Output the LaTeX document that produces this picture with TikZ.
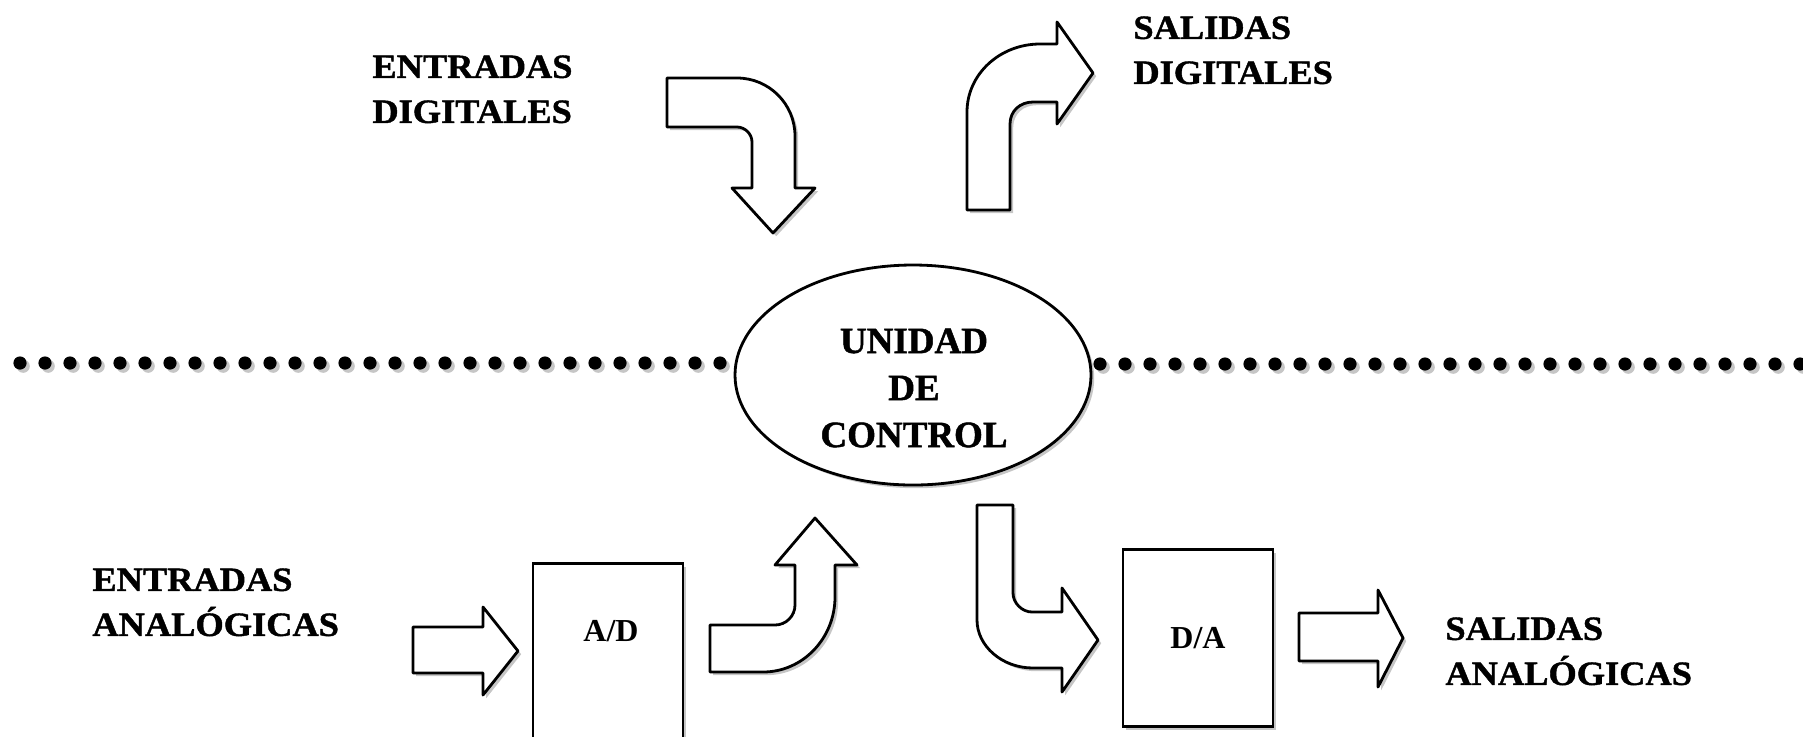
\documentclass[tikz,border=0pt]{standalone}
\usepackage{fontspec}
\setmainfont{Liberation Serif}
\newfontfamily\lblfont[FakeStretch=1.07,FakeBold=1.2]{Liberation Serif}
\newfontfamily\ctrlfont[FakeBold=1.2]{Liberation Serif}
\usepackage{tikz}
\usetikzlibrary{shapes.geometric,shadows}

\tikzset{
  shade/.style={drop shadow={shadow xshift=1.6pt,shadow yshift=-1.6pt,opacity=0.45}},
  blockarrow/.style={draw=black,line width=1.4pt,fill=white,line join=round,shade},
  blockbox/.style={draw=black,line width=1.4pt,fill=white,rectangle,shade,
    font=\fontsize{16}{18}\selectfont\bfseries},
  ctrl/.style={draw=black,line width=1.4pt,fill=white,ellipse,shade,
    minimum width=178pt,minimum height=110pt,inner sep=0pt},
  ctrltext/.style={align=center,inner sep=0pt,font=\ctrlfont\fontsize{18.5}{23.5}\selectfont\bfseries},
  lbl/.style={align=left,inner sep=0pt,anchor=north west,
    font=\lblfont\fontsize{17}{22.5}\selectfont\bfseries},
  dot/.style={fill=black,shade}
}

\begin{document}
\begin{tikzpicture}[x=0.5pt,y=-0.5pt]
\useasboundingbox (0,0) rectangle (1803,736);
\clip (0,0) rectangle (1803,736);

% dotted divider
\foreach \xx in {20,45,...,720} {
  \fill[dot] (\xx,363) circle (3.3pt);
}
\foreach \xx in {1100,1125,...,1800} {
  \fill[dot] (\xx,364) circle (3.3pt);
}

\node[ctrl] (uc) at (913,375) {};
\node[ctrltext] (uctext) at (914,388) {UNIDAD\\DE\\CONTROL};

% digital side
\node[lbl] (ed) at (372,55) {ENTRADAS\\DIGITALES};
\draw[blockarrow] (667,78) -- (737,78) .. controls (769,78) and (795,104) .. (795,136)
  -- (795,188) -- (815,188) -- (773,233) -- (732,188) -- (752,188) -- (752,142)
  .. controls (752,134) and (745,127) .. (737,127) -- (667,127) -- cycle;

\node[lbl] (sd) at (1133,16) {SALIDAS\\DIGITALES};
\draw[blockarrow] (967,210) -- (967,112) .. controls (967,74) and (1000,44) .. (1040,44)
  -- (1057,44) -- (1057,22) -- (1093,73) -- (1057,124) -- (1057,102) -- (1033,102)
  .. controls (1020,102) and (1010,111) .. (1010,124) -- (1010,210) -- cycle;

% analog side
\node[lbl] (ea) at (92,568) {ENTRADAS\\ANALÓGICAS};
\draw[blockarrow] (413,627) -- (483,627) -- (483,607) -- (518,651) -- (483,695)
  -- (483,673) -- (413,673) -- cycle;

\node[blockbox,minimum width=75pt,minimum height=100pt,anchor=north] (ad) at (608,562) {};
\node[inner sep=0pt,font=\fontsize{16}{18}\selectfont\bfseries] (adtext) at (611,631) {A/D};

\draw[blockarrow] (710,625) -- (775,625) .. controls (786,625) and (795,616) .. (795,605)
  -- (795,565) -- (775,565) -- (815,518) -- (857,565) -- (835,565) -- (835,597)
  .. controls (835,638) and (803,672) .. (763,672) -- (710,672) -- cycle;

\draw[blockarrow] (977,505) -- (1013,505) -- (1013,593) .. controls (1013,603) and (1022,612) .. (1032,612)
  -- (1062,612) -- (1062,588) -- (1098,640) -- (1062,692) -- (1062,668) -- (1033,668)
  .. controls (1002,668) and (977,646) .. (977,620) -- cycle;

\node[blockbox,minimum width=75pt,minimum height=88.5pt] (da) at (1198,638) {D/A};

\draw[blockarrow] (1299,613) -- (1378,613) -- (1378,590) -- (1403,638) -- (1378,687)
  -- (1378,661) -- (1299,661) -- cycle;

\node[lbl] (sa) at (1445,617) {SALIDAS\\ANALÓGICAS};
\end{tikzpicture}
\end{document}
